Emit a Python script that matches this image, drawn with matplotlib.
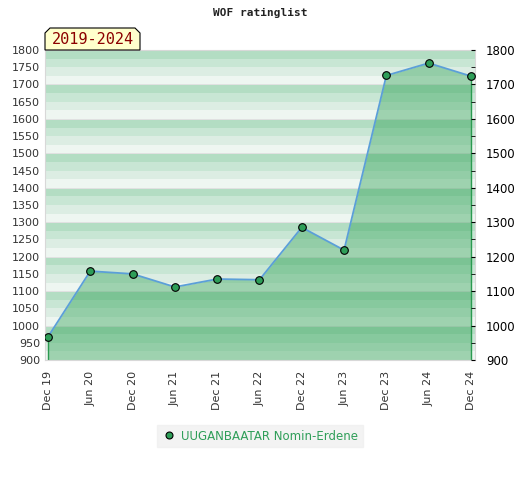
import matplotlib
matplotlib.use("Agg")
from matplotlib import pyplot as plt
from matplotlib.patches import Polygon
from matplotlib.lines import Line2D

# data
periods = ["Dec 19", "Jun 20", "Dec 20", "Jun 21", "Dec 21", "Jun 22",
           "Dec 22", "Jun 23", "Dec 23", "Jun 24", "Dec 24"]
ratings = [967, 1158, 1150, 1112, 1135, 1133, 1285, 1219, 1726, 1762, 1724]
player = "UUGANBAATAR Nomin-Erdene"
title = "WOF ratinglist"
period_label = "2019-2024"

x = list(range(len(periods)))

fig = plt.figure(figsize=(5.2, 4.8), dpi=100)
ax = fig.add_axes([45/520, 120/480, 430/520, 310/480])

ymin, ymax = 900, 1800
ax.set_ylim(ymin, ymax)
ax.set_xlim(-0.07, 10.095)

# striped background, four bands per 100 points
band_colors = ["#eef6f1", "#dcede3", "#c8e6d4", "#b3ddc3"]
for base in range(ymin, ymax, 100):
    for i, c in enumerate(band_colors):
        ax.axhspan(base + i*25, base + (i+1)*25, color=c, lw=0, zorder=0)
    ax.axhline(base, color="#e2e2e2", lw=0.7, zorder=0.5)

# area + line
ax.fill_between(x, ratings, ymin, color="#279e4e", alpha=0.4, lw=0, zorder=1)
ax.vlines([x[0], x[-1]], ymin, [ratings[0], ratings[-1]], color="#2a9a50", lw=1, zorder=2)
ax.plot(x, ratings, color="#5b9fd8", lw=1.3, zorder=3)
ax.plot(x, ratings, "o", color="#2e9e58", mec="black", mew=0.8, ms=5.5, zorder=4)

for s in ax.spines.values():
    s.set_color("#d8d8d8")

ax.set_xticks(x)
ax.set_xticklabels(periods, rotation=90, fontsize=8, color="#333333")
ax.tick_params(axis="x", length=0, pad=8)

ax.set_yticks(range(ymin, ymax + 1, 50))
ax.tick_params(axis="y", length=0, labelsize=8, labelcolor="#333333")

ax2 = ax.twinx()
ax2.set_ylim(ymin, ymax)
ax2.set_yticks(range(ymin, ymax + 1, 100))
ax2.set_yticks(range(950, ymax, 100), minor=True)
ax2.tick_params(axis="y", which="both", direction="in", length=3, color="black",
                labelsize=8.5, labelcolor="black", pad=8)
for s in ax2.spines.values():
    s.set_visible(False)

fig.text(0.5, 1 - 13/480, title, ha="center", va="center",
         fontsize=8, fontweight="bold", family="DejaVu Sans Mono", color="#222222")

# period tag with cut corners
tx0, tx1, ty0, ty1 = 45/520, 140/520, 1 - 50/480, 1 - 28/480
cx, cy = 5/520, 5/480
tag = Polygon([(tx0, ty0), (tx0, ty1 - cy), (tx0 + cx, ty1), (tx1 - cx, ty1),
               (tx1, ty1 - cy), (tx1, ty0)], closed=True, transform=fig.transFigure,
              facecolor="#ffffcc", edgecolor="black", lw=0.8)
fig.add_artist(tag)
fig.text((tx0 + tx1)/2, (ty0 + ty1)/2 - 0.002, period_label, ha="center", va="center",
         fontsize=11, family="DejaVu Sans Mono", color="#8b0000")

handle = Line2D([], [], marker="o", ls="none", color="#2e9e58", mec="black", mew=0.8, ms=5)
leg = fig.legend([handle], [player], loc="center", bbox_to_anchor=(260/520, 1 - 436/480),
                 frameon=True, fontsize=8.5, handletextpad=0.4, borderpad=0.4,
                 fancybox=False, handlelength=1.2)
leg.get_frame().set_facecolor("#f0f0f0")
leg.get_frame().set_edgecolor("#f0f0f0")
for t in leg.get_texts():
    t.set_color("#2e9e58")

fig.savefig("out.png", dpi=100)
